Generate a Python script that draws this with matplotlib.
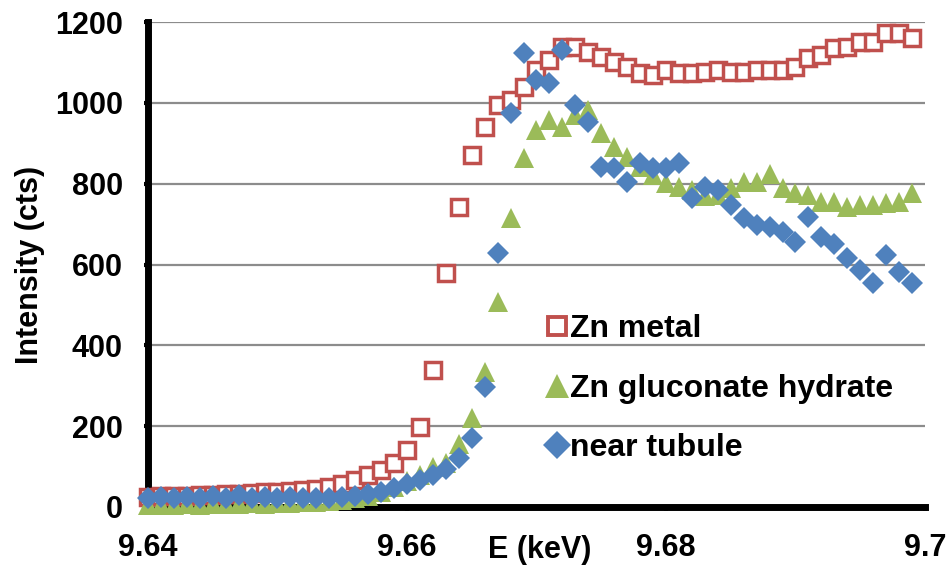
import numpy as np
import matplotlib
matplotlib.use("Agg")
import matplotlib.pyplot as plt
from matplotlib.lines import Line2D

# energy grid, 1 eV steps
energy = np.round(np.arange(9.640, 9.6995, 0.001), 3)

zn_metal = [25, 26, 27, 28, 29, 30, 31, 33, 34, 36,
            38, 40, 42, 45, 50, 58, 68, 78, 92, 110,
            140, 198, 339, 579, 743, 871, 941, 995, 1007, 1040,
            1082, 1106, 1139, 1139, 1126, 1114, 1101, 1089, 1074, 1069,
            1082, 1074, 1074, 1077, 1082, 1077, 1077, 1082, 1082, 1082,
            1089, 1111, 1119, 1136, 1139, 1151, 1151, 1173, 1173, 1161]

zn_gluconate = [5, 6, 5, 7, 6, 8, 7, 8, 9, 8,
                10, 10, 12, 13, 15, 17, 22, 28, 38, 50,
                65, 80, 100, 110, 155, 220, 334, 507, 715, 864,
                933, 958, 940, 970, 983, 926, 891, 866, 842, 822,
                802, 792, 785, 770, 772, 790, 804, 804, 825, 790,
                777, 772, 755, 755, 743, 748, 748, 752, 755, 777]

near_tubule = [22, 25, 22, 24, 22, 26, 23, 30, 22, 24,
               22, 25, 23, 22, 23, 24, 28, 33, 38, 47,
               57, 68, 80, 95, 121, 171, 297, 629, 975, 1124,
               1057, 1050, 1131, 995, 953, 842, 839, 804, 851, 839,
               839, 851, 765, 792, 785, 748, 715, 698, 693, 681,
               656, 718, 668, 650, 616, 587, 554, 624, 582, 554]

labels = ["Zn metal", "Zn gluconate hydrate", "near tubule"]
x_ticks = [9.64, 9.66, 9.68, 9.70]
x_tick_labels = ["9.64", "9.66", "9.68", "9.7"]
y_ticks = [0, 200, 400, 600, 800, 1000, 1200]

red = "#C0504D"
green = "#9BBB59"
blue = "#4F81BD"

plt.rcParams['font.family'] = ['Liberation Sans', 'DejaVu Sans']
plt.rcParams['font.weight'] = 'bold'

fig = plt.figure(figsize=(9.53, 5.78), dpi=100)
ax = fig.add_axes([148/953, 1-507/578, 777/953, 485/578])

ax.plot(energy, zn_metal, ls='none', marker='s', ms=11, mfc='white',
        mec=red, mew=2.5, label=labels[0], clip_on=False, zorder=3)
ax.plot(energy, zn_gluconate, ls='none', marker='^', ms=14.5, mfc=green,
        mec=green, mew=0, label=labels[1], clip_on=False, zorder=4)
ax.plot(energy, near_tubule, ls='none', marker='D', ms=11.5, mfc=blue,
        mec=blue, mew=0, label=labels[2], clip_on=False, zorder=5)

ax.set_xlim(9.64, 9.70)
ax.set_ylim(0, 1200)
ax.set_xticks(x_ticks)
ax.set_xticklabels(x_tick_labels)
ax.set_yticks(y_ticks)
ax.tick_params(labelsize=22, length=3, width=3, direction='out')
ax.tick_params(axis='x', pad=16)
ax.tick_params(axis='y', pad=15)

ax.grid(axis='y', color='#8c8c8c', lw=1.6)
ax.set_axisbelow(True)
for s in ['top', 'right']:
    ax.spines[s].set_visible(False)
for s in ['left', 'bottom']:
    ax.spines[s].set_linewidth(5)

ax.set_ylabel("Intensity (cts)", fontsize=22, fontweight='bold')
ax.yaxis.set_label_coords(-0.1326, 0.5)
ax.text(0.504, -0.088, "E (keV)", transform=ax.transAxes, fontsize=22,
        fontweight='bold', ha='center', va='center')

handles = [Line2D([], [], ls='none', marker='s', ms=13, mfc='white', mec=red, mew=2.8),
           Line2D([], [], ls='none', marker='^', ms=17, mfc=green, mec=green, mew=0),
           Line2D([], [], ls='none', marker='D', ms=14, mfc=blue, mec=blue, mew=0)]
ax.legend(handles, labels, loc='upper left', bbox_to_anchor=(531/953, 1-298/578),
          bbox_transform=fig.transFigure, frameon=False, fontsize=23,
          handlelength=0.6, handletextpad=0.12, labelspacing=0.93, borderpad=0)

fig.savefig("out.png", dpi=100)
